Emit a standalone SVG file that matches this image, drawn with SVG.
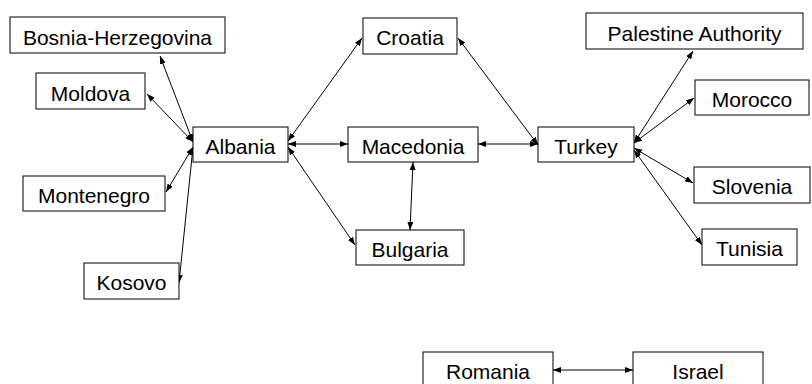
<svg xmlns="http://www.w3.org/2000/svg" width="812" height="384" viewBox="0 0 812 384">
  <defs>
    <marker id="tip" markerUnits="userSpaceOnUse" markerWidth="8" markerHeight="6" refX="8" refY="3" orient="auto-start-reverse">
      <path d="M0,0 L8,3 L0,6 z" fill="#000"/>
    </marker>
    <style>
      .box { fill: #fff; stroke: #000; stroke-width: 1; }
      .lbl { font-family: "Liberation Sans", Arial, sans-serif; font-size: 21px; fill: #000; text-anchor: middle; }
      .link { stroke: #000; stroke-width: 1; fill: none; marker-start: url(#tip); marker-end: url(#tip); }
    </style>
  </defs>
  <rect width="812" height="384" fill="#fff"/>

  <g id="connectors">
    <line class="link" x1="160" y1="56" x2="193" y2="142"/>
    <line class="link" x1="147" y1="94" x2="193" y2="142"/>
    <line class="link" x1="166" y1="192" x2="193" y2="147"/>
    <line class="link" x1="179" y1="283" x2="193" y2="147"/>
    <line class="link" x1="288" y1="141" x2="362" y2="38"/>
    <line class="link" x1="288" y1="144" x2="348" y2="144"/>
    <line class="link" x1="288" y1="147" x2="355" y2="245"/>
    <line class="link" x1="413" y1="162" x2="410" y2="230"/>
    <line class="link" x1="478" y1="144" x2="538" y2="144"/>
    <line class="link" x1="458" y1="38" x2="538" y2="145"/>
    <line class="link" x1="634" y1="143" x2="693" y2="51"/>
    <line class="link" x1="634" y1="143" x2="694" y2="98"/>
    <line class="link" x1="634" y1="148" x2="693" y2="183"/>
    <line class="link" x1="634" y1="150" x2="702" y2="245"/>
    <line class="link" x1="553" y1="370" x2="633" y2="370"/>
  </g>

  <g id="bosnia"><rect class="box" x="10" y="17" width="215" height="36"/><text class="lbl" x="117.5" y="45">Bosnia-Herzegovina</text></g>
  <g id="moldova"><rect class="box" x="36" y="73" width="109" height="36"/><text class="lbl" x="90.5" y="101">Moldova</text></g>
  <g id="montenegro"><rect class="box" x="23" y="176" width="142" height="35"/><text class="lbl" x="94" y="203">Montenegro</text></g>
  <g id="kosovo"><rect class="box" x="84" y="263" width="95" height="36"/><text class="lbl" x="131.5" y="290">Kosovo</text></g>
  <g id="albania"><rect class="box" x="193" y="127" width="95" height="35"/><text class="lbl" x="240.5" y="154">Albania</text></g>
  <g id="croatia"><rect class="box" x="363" y="18" width="94" height="36"/><text class="lbl" x="410" y="45">Croatia</text></g>
  <g id="macedonia"><rect class="box" x="348" y="127" width="130" height="35"/><text class="lbl" x="413" y="154">Macedonia</text></g>
  <g id="bulgaria"><rect class="box" x="356" y="230" width="108" height="35"/><text class="lbl" x="410" y="257">Bulgaria</text></g>
  <g id="turkey"><rect class="box" x="538" y="127" width="96" height="35"/><text class="lbl" x="586" y="154">Turkey</text></g>
  <g id="palestine"><rect class="box" x="586" y="13" width="217" height="36"/><text class="lbl" x="694.5" y="41">Palestine Authority</text></g>
  <g id="morocco"><rect class="box" x="695" y="80" width="114" height="35"/><text class="lbl" x="752" y="107">Morocco</text></g>
  <g id="slovenia"><rect class="box" x="694" y="167" width="116" height="36"/><text class="lbl" x="752" y="194">Slovenia</text></g>
  <g id="tunisia"><rect class="box" x="702" y="229" width="95" height="36"/><text class="lbl" x="749.5" y="256">Tunisia</text></g>
  <g id="romania"><rect class="box" x="423" y="352" width="130" height="36"/><text class="lbl" x="488" y="379">Romania</text></g>
  <g id="israel"><rect class="box" x="633" y="352" width="130" height="36"/><text class="lbl" x="698" y="379">Israel</text></g>
</svg>
